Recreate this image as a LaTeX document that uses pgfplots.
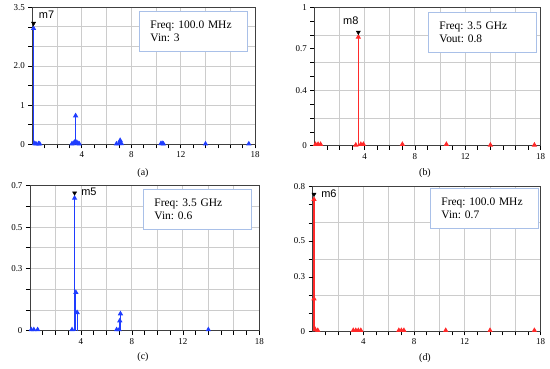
\documentclass[border=0pt]{standalone}
\usepackage{fontspec}
\setmainfont{Liberation Serif}
\newfontfamily\msans{Liberation Sans}
\usepackage{pgfplots}
\pgfplotsset{compat=1.18}
\frenchspacing
\definecolor{boxblue}{HTML}{A9C0E8}
\definecolor{gridgray}{HTML}{CCCCCC}
\definecolor{adsblue}{HTML}{1F3DFF}
\definecolor{adsred}{HTML}{FF2A2A}
\pgfplotsset{
  adsaxis/.style={
    scale only axis,
    anchor=north west,
    xmin=0, xmax=18, ymin=0,
    xtick={2,4,...,18},
    xticklabels={,4,,8,,12,,,18},
    minor xtick={1,3,...,17},
    xmajorgrids, ymajorgrids,
    major grid style={draw=gridgray, line width=0.9bp},
    minor grid style={draw=none},
    axis line style={draw=black!75, line width=1bp},
    tick align=outside,
    tick style={draw=black, line width=0.7bp},
    major tick length=4bp,
    minor tick length=4bp,
    xtick pos=bottom, ytick pos=left,
    tick label style={font=\fontsize{9}{10}\selectfont},
    /pgf/number format/assume math mode=true,
    clip=false,
  },
  stem/.style={ycomb, line width=1.1bp, mark=triangle*, mark size=2bp, mark options={solid}},
  mk/.style={only marks, mark=triangle*, mark size=2.4bp, mark options={rotate=180, fill=black, draw=black}},
}
\newcommand{\infobox}[3]{\node[draw=boxblue, line width=0.9bp, fill=white, anchor=north west, minimum width=108bp, minimum height=40bp, text width=86bp, align=left, inner xsep=11bp, font=\fontsize{11.5}{13}\selectfont] at (#1) {#2\\#3};}
\begin{document}
\begin{tikzpicture}[x=1bp,y=1bp]
\useasboundingbox (0,0) rectangle (550,368);
% (a)
\begin{axis}[adsaxis, at={(32.3bp,360.7bp)}, width=222.7bp, height=137bp,
  ymax=3.5, ytick={0,0.5,...,3.5}, yticklabels={0,,1,,2.0,,,3.5}]
\addplot[stem, color=adsblue] coordinates {
(0.1,2.96) (0.2,0.02) (0.3,0.01) (0.5,0.015) (0.6,0.01)
(3.2,0.01) (3.3,0.02) (3.4,0.05) (3.5,0.73) (3.6,0.05) (3.7,0.02) (3.8,0.01)
(6.8,0.01) (7.0,0.02) (7.1,0.10) (7.2,0.02)
(10.4,0.02) (10.5,0.02) (10.6,0.01) (14.0,0.01) (17.5,0.01)};
\addplot[mk] coordinates {(0.1,3.09)};
\node[font=\msans\fontsize{11}{13}\selectfont, anchor=west] at (axis cs:0.25,3.32) {m7};
\end{axis}
% (b)
\begin{axis}[adsaxis, at={(314.3bp,360.7bp)}, width=226.4bp, height=138.4bp,
  ymax=1, ytick={0,0.2,...,1.0}, yticklabels={0,,0.4,,,1},
  minor ytick={0.1,0.3,0.5,0.7,0.9},
  extra y ticks={0.7}, extra y tick labels={0.7},
  extra y tick style={grid=none}]
\addplot[stem, color=adsred] coordinates {
(0.1,0.01) (0.3,0.01) (0.5,0.01) (3.3,0.005) (3.5,0.785) (3.7,0.01) (3.9,0.01)
(7.0,0.01) (10.5,0.01) (14.0,0.005) (17.5,0.005)};
\addplot[mk] coordinates {(3.5,0.82)};
\node[font=\msans\fontsize{11}{13}\selectfont] at (axis cs:2.9,0.905) {m8};
\end{axis}
% (c)
\begin{axis}[adsaxis, at={(30bp,182.3bp)}, width=229.3bp, height=145bp,
  ymax=0.7, ytick={0,0.1,...,0.7}, yticklabels={0,,,0.3,,0.5,,0.7}]
\addplot[stem, color=adsblue] coordinates {
(0.1,0.005) (0.3,0.005) (0.6,0.005) (3.3,0.005) (3.5,0.64) (3.6,0.185) (3.7,0.088)
(6.8,0.005) (7.0,0.005) (7.05,0.048) (7.1,0.082) (14.0,0.005)};
\addplot[mk] coordinates {(3.5,0.665)};
\node[font=\msans\fontsize{11}{13}\selectfont, anchor=west] at (axis cs:3.75,0.672) {m5};
\end{axis}
% (d)
\begin{axis}[adsaxis, at={(312.7bp,181.3bp)}, width=228bp, height=144.6bp,
  ymax=0.8, ytick={0,0.2,...,0.8}, yticklabels={0,,,,0.8},
  minor ytick={0.1,0.3,0.5,0.7},
  extra y ticks={0.3,0.5}, extra y tick labels={0.3,0.5},
  extra y tick style={grid=none}]
\addplot[stem, color=adsred] coordinates {
(0.1,0.73) (0.1,0.18) (0.2,0.01) (0.4,0.005)
(3.2,0.005) (3.4,0.005) (3.6,0.005) (3.8,0.005)
(6.8,0.005) (7.0,0.005) (7.2,0.005) (10.5,0.005) (14.0,0.005) (17.5,0.005)};
\addplot[mk] coordinates {(0.1,0.758)};
\node[font=\msans\fontsize{11}{13}\selectfont, anchor=west] at (axis cs:0.4,0.76) {m6};
\end{axis}
% info boxes
\infobox{139,357}{Freq: 100.0 MHz}{Vin: 3}
\infobox{428,356}{Freq: 3.5 GHz}{Vout: 0.8}
\infobox{143,179}{Freq: 3.5 GHz}{Vin: 0.6}
\infobox{430,180}{Freq: 100.0 MHz}{Vin: 0.7}
% captions
\node[font=\fontsize{10}{12}\selectfont] at (143,195) {(a)};
\node[font=\fontsize{10}{12}\selectfont] at (425,195) {(b)};
\node[font=\fontsize{10}{12}\selectfont] at (143,10.5) {(c)};
\node[font=\fontsize{10}{12}\selectfont] at (425,10) {(d)};
\end{tikzpicture}
\end{document}
